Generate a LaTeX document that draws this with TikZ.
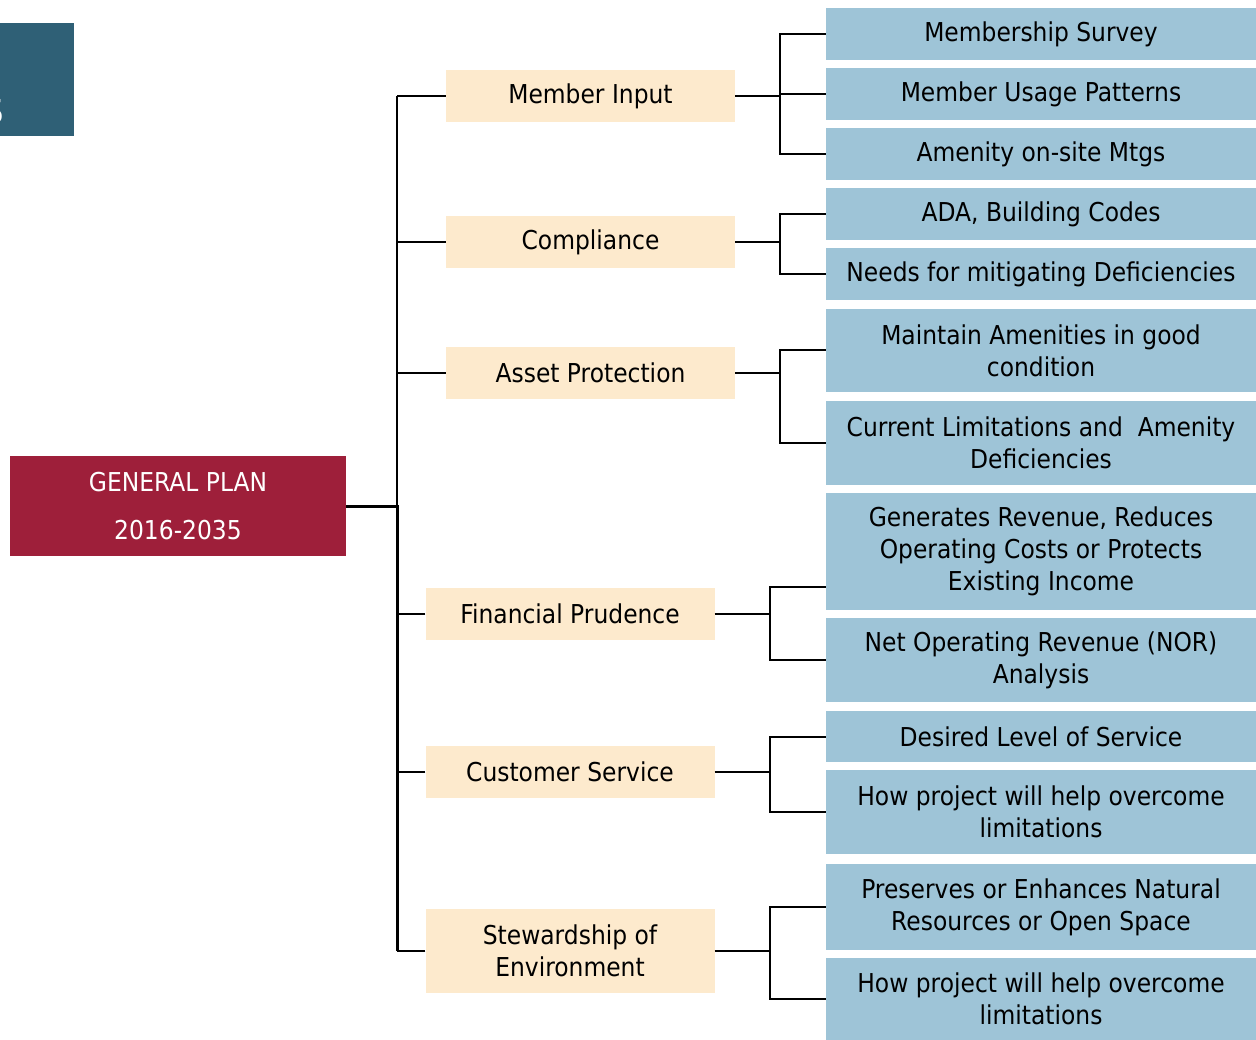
\documentclass[tikz,border=0pt]{standalone}
\usepackage{fontspec}
\setmainfont{DejaVu Sans}[FakeStretch=0.9]
\usetikzlibrary{calc}
\definecolor{leafblue}{HTML}{9EC4D7}
\definecolor{midbeige}{HTML}{FDEACD}
\definecolor{planred}{HTML}{9E1F3A}
\definecolor{tealbox}{HTML}{2F6076}
\begin{document}
\begin{tikzpicture}[x=1pt,y=-1pt,
  leaf/.style={fill=leafblue,inner sep=0pt,minimum width=430pt,align=center,
    font=\fontsize{26}{32}\selectfont},
  mid/.style={fill=midbeige,inner sep=0pt,minimum width=289pt,minimum height=52pt,
    align=center,font=\fontsize{26}{32}\selectfont},
  link/.style={draw=black,line width=2pt},
  heavylink/.style={draw=black,line width=3pt}]
\useasboundingbox (0,0) rectangle (1256,1040);

% title block and side tab
\node[fill=tealbox,inner sep=0pt,minimum width=74pt,minimum height=113pt] (tab) at (37,79.5) {};
\node[text=white,anchor=base east,inner sep=0pt,font=\fontsize{34}{34}\selectfont] (tabtext) at (4,124) {S};
\node[fill=planred,text=white,inner sep=0pt,minimum width=336pt,minimum height=100pt,
  align=center,font=\fontsize{26}{48}\selectfont] (plan) at (178,506) {GENERAL PLAN\\2016-2035};

% second level
\node[mid] (mi) at (590.5,96) {Member Input};
\node[mid] (co) at (590.5,242) {Compliance};
\node[mid] (ap) at (590.5,373) {Asset Protection};
\node[mid] (fp) at (570,614) {Financial Prudence};
\node[mid] (cs) at (570,772) {Customer Service};
\node[mid,minimum height=84pt] (se) at (570,951) {Stewardship of\\Environment};

% third level
\node[leaf,minimum height=52pt] (l1) at (1041,34) {Membership Survey};
\node[leaf,minimum height=52pt] (l2) at (1041,94) {Member Usage Patterns};
\node[leaf,minimum height=52pt] (l3) at (1041,154) {Amenity on-site Mtgs};
\node[leaf,minimum height=52pt] (l4) at (1041,214.5) {ADA, Building Codes};
\node[leaf,minimum height=52pt] (l5) at (1041,274.5) {Needs for mitigating Deficiencies};
\node[leaf,minimum height=83pt] (l6) at (1041,350.5) {Maintain Amenities in good\\condition};
\node[leaf,minimum height=84pt] (l7) at (1041,443) {Current Limitations and~ Amenity\\Deficiencies};
\node[leaf,minimum height=117pt] (l8) at (1041,551.5) {Generates Revenue, Reduces\\Operating Costs or Protects\\Existing Income};
\node[leaf,minimum height=84pt] (l9) at (1041,660) {Net Operating Revenue (NOR)\\Analysis};
\node[leaf,minimum height=51pt] (l10) at (1041,736.5) {Desired Level of Service};
\node[leaf,minimum height=84pt] (l11) at (1041,812) {How project will help overcome\\limitations};
\node[leaf,minimum height=86pt] (l12) at (1041,907) {Preserves or Enhances Natural\\Resources or Open Space};
\node[leaf,minimum height=82pt] (l13) at (1041,999) {How project will help overcome\\limitations};

% bracket columns
\coordinate (trunk) at (397,0);
\coordinate (bA) at (780,0);
\coordinate (bB) at (770,0);
\coordinate (l8tap) at ($(l8.south west)+(0,-23)$);

% trunk from the plan block
\draw[link] (mi.west -| trunk) -- (plan.east -| trunk);
\draw[heavylink] (plan.east) -- (plan.east -| trunk) -- (se.west -| trunk);
\foreach \m in {mi,co,ap,fp,cs,se}
  \draw[link] (\m.west) -- (\m.west -| trunk);

% Member Input
\draw[link] (mi.east) -- (mi.east -| bA);
\draw[link] (l1.west) -- (l1.west -| bA) -- (l3.west -| bA) -- (l3.west);
\draw[link] (l2.west) -- (l2.west -| bA);
% Compliance
\draw[link] (co.east) -- (co.east -| bA);
\draw[link] (l4.west) -- (l4.west -| bA) -- (l5.west -| bA) -- (l5.west);
% Asset Protection
\draw[link] (ap.east) -- (ap.east -| bA);
\draw[link] (l6.west) -- (l6.west -| bA) -- (l7.west -| bA) -- (l7.west);
% Financial Prudence
\draw[link] (fp.east) -- (fp.east -| bB);
\draw[link] (l8tap) -- (l8tap -| bB) -- (l9.west -| bB) -- (l9.west);
% Customer Service
\draw[link] (cs.east) -- (cs.east -| bB);
\draw[link] (l10.west) -- (l10.west -| bB) -- (l11.west -| bB) -- (l11.west);
% Stewardship of Environment
\draw[link] (se.east) -- (se.east -| bB);
\draw[link] (l12.west) -- (l12.west -| bB) -- (l13.west -| bB) -- (l13.west);
\end{tikzpicture}
\end{document}
